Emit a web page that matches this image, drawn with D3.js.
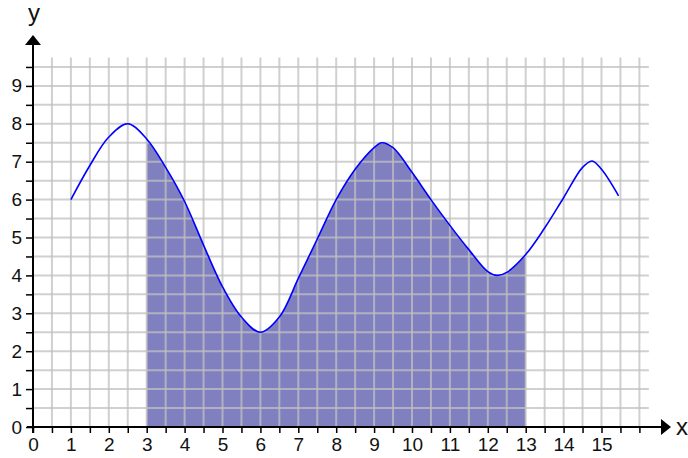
<!DOCTYPE html>
<html lang="en">
<head>
  <meta charset="UTF-8">
  <title>area under curve</title>
  <script src="https://d3js.org/d3.v7.min.js"></script>
  <style>
    body { margin: 0; background: #fff; }
    text { font-family: "Liberation Sans", Arial, sans-serif; }
  </style>
</head>
<body>
<svg></svg>
<script>
  // curve
  const curveX = [1, 1.5, 2, 2.5, 3, 3.5, 4, 4.5, 5, 5.5, 6, 6.5, 7, 7.5, 8, 8.5, 9, 9.2, 9.5, 10, 10.5, 11, 11.5, 12, 12.25, 12.5, 13, 13.5, 14, 14.5, 14.75, 15, 15.45]
  const curveY = [6, 6.9, 7.65, 8, 7.6, 6.85, 5.95, 4.8, 3.7, 2.9, 2.5, 2.9, 3.92, 4.96, 6.0, 6.8, 7.37, 7.5, 7.37, 6.72, 6.0, 5.32, 4.68, 4.1, 4.0, 4.08, 4.55, 5.25, 6.05, 6.85, 7.02, 6.8, 6.1]
  const shade = [3, 13]
  const xLabels = d3.range(0, 16)   // 0..15
  const yLabels = d3.range(0, 10)   // 0..9

  const width = 688, height = 458
  const unit = 37.9
  const ox = 33, oy = 427

  const x = d3.scaleLinear().domain([0, 16]).range([ox, ox + 16 * unit])
  const y = d3.scaleLinear().domain([0, 9.5]).range([oy, oy - 9.5 * unit])

  const svg = d3.select('svg')
      .attr('width', width)
      .attr('height', height)
      .attr('viewBox', [0, 0, width, height])

  const pts = curveX.map((d, i) => [d, curveY[i]])
  const smooth = d3.curveCatmullRom.alpha(0.5)

  // shaded area between 3 and 13
  svg.append('clipPath').attr('id', 'band')
    .append('rect')
      .attr('x', x(shade[0])).attr('y', 0)
      .attr('width', x(shade[1]) - x(shade[0])).attr('height', height)

  svg.append('path')
      .datum(pts)
      .attr('clip-path', 'url(#band)')
      .attr('fill', '#8080c0')
      .attr('d', d3.area().x(d => x(d[0])).y0(y(0)).y1(d => y(d[1])).curve(smooth))

  // grid, every half unit
  const grid = svg.append('g')
      .attr('stroke', '#c0c0c0')
      .attr('stroke-opacity', 0.75)
      .attr('stroke-width', 2)

  grid.selectAll('.v').data(d3.range(0.5, 16.01, 0.5)).join('line')
      .attr('x1', d => x(d)).attr('x2', d => x(d))
      .attr('y1', y(0)).attr('y2', y(9.75))

  grid.selectAll('.h').data(d3.range(0.5, 9.51, 0.5)).join('line')
      .attr('y1', d => y(d)).attr('y2', d => y(d))
      .attr('x1', x(0)).attr('x2', x(16.25))

  // the curve
  svg.append('path')
      .datum(pts)
      .attr('fill', 'none')
      .attr('stroke', '#0000ff')
      .attr('stroke-width', 1.6)
      .attr('d', d3.line().x(d => x(d[0])).y(d => y(d[1])).curve(smooth))

  // axes
  const xAxis = svg.append('g')
      .attr('transform', `translate(0,${oy})`)
      .call(d3.axisBottom(x)
          .tickValues(d3.range(0, 16.01, 0.5))
          .tickSize(6).tickSizeOuter(0).tickPadding(5)
          .tickFormat(d => xLabels.includes(d) ? d : ''))
  xAxis.select('.domain').remove()

  const yAxis = svg.append('g')
      .attr('transform', `translate(${ox},0)`)
      .call(d3.axisLeft(y)
          .tickValues(d3.range(0, 9.51, 0.5))
          .tickSize(7).tickSizeOuter(0).tickPadding(4)
          .tickFormat(d => yLabels.includes(d) ? d : ''))
  yAxis.select('.domain').remove()

  svg.selectAll('.tick line').attr('stroke', '#000').attr('stroke-width', 1.5)
  svg.selectAll('.tick text')
      .attr('fill', '#111')
      .style('font-size', '19px')
      .style('font-family', '"Liberation Sans", Arial, sans-serif')

  svg.append('line')
      .attr('x1', x(0) - 6).attr('x2', 661)
      .attr('y1', oy).attr('y2', oy)
      .attr('stroke', '#000').attr('stroke-width', 2)
  svg.append('line')
      .attr('x1', ox).attr('x2', ox)
      .attr('y1', oy + 6).attr('y2', 45)
      .attr('stroke', '#000').attr('stroke-width', 2)

  svg.append('path')
      .attr('d', `M${ox},35 L${ox + 8},45 L${ox - 8},45 Z`)
      .attr('fill', '#000')
  svg.append('path')
      .attr('d', `M671,${oy} L661,${oy - 8} L661,${oy + 8} Z`)
      .attr('fill', '#000')

  svg.append('text')
      .attr('x', ox + 1).attr('y', 21)
      .attr('text-anchor', 'middle')
      .style('font-size', '24px')
      .attr('fill', '#111')
      .text('y')
  svg.append('text')
      .attr('x', 676).attr('y', oy + 8)
      .style('font-size', '24px')
      .attr('fill', '#111')
      .text('x')
</script>
</body>
</html>
